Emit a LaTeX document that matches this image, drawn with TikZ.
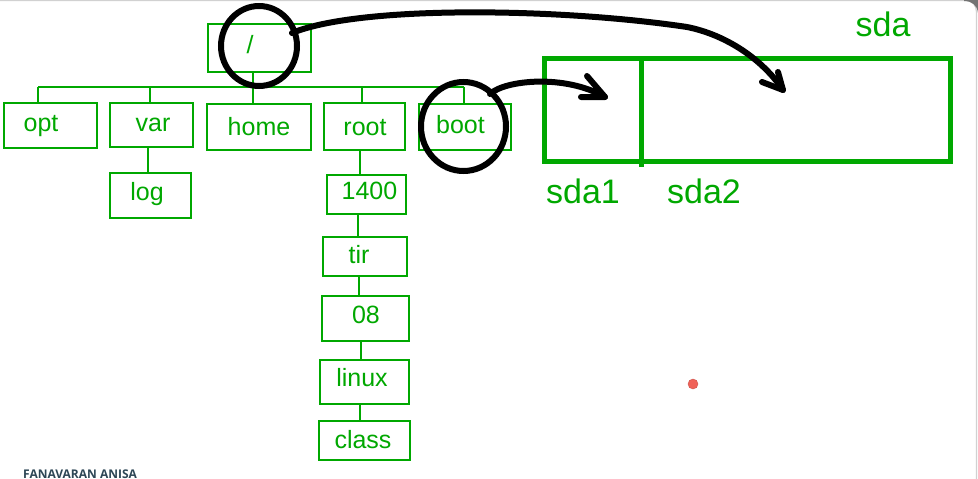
\documentclass[tikz,border=0pt]{standalone}
\usepackage{fontspec}
\setmainfont{Liberation Sans}
\newfontfamily\footfont{Open Sans}
\usetikzlibrary{shapes.geometric}
\definecolor{gr}{RGB}{0,168,0}
\definecolor{dotred}{RGB}{240,98,88}
\definecolor{footc}{RGB}{45,70,85}
\begin{document}
\begin{tikzpicture}[x=1pt,y=-1pt,
  box/.style={draw=gr, line width=1.6pt, inner sep=0pt},
  lbl/.style={text=gr, font=\fontsize{25}{25}\selectfont, inner sep=0pt, text height=18pt, text depth=0pt},
  biglbl/.style={text=gr, font=\fontsize{34}{34}\selectfont, inner sep=0pt, text height=24pt, text depth=0pt},
  tree/.style={draw=gr, line width=1.5pt},
  ring/.style={ellipse, draw=black, line width=6pt, inner sep=0pt},
  pen/.style={draw=black, line width=6pt, line cap=round, line join=round}]
\useasboundingbox (0,0) rectangle (978,479);
\fill[white] (0,0) rectangle (978,479);
% window border
\draw[black!18, line width=1.2pt] (0,0.6) -- (966,0.6) .. controls (972,0.6) and (976.5,5) .. (976.5,12) -- (976.5,479);
\fill[black!55] (964,0) -- (978,0) -- (978,13) .. controls (977,5) and (972,1) .. (964,1) -- cycle;

% tree boxes
\node[box, minimum width=103pt, minimum height=48pt] (slash) at (259.5,48) {};
\node[box, minimum width=93pt, minimum height=45pt] (opt) at (50.5,125.5) {};
\node[box, minimum width=83pt, minimum height=44pt] (var) at (151.5,125) {};
\node[box, minimum width=104pt, minimum height=46pt] (home) at (259,127) {};
\node[box, minimum width=81pt, minimum height=47pt] (root) at (364.5,126.5) {};
\node[box, minimum width=92pt, minimum height=46pt] (boot) at (465,127) {};
\node[box, minimum width=81pt, minimum height=45pt] (log) at (150.5,195.5) {};
\node[box, minimum width=79pt, minimum height=39pt] (n1400) at (366.5,194.5) {};
\node[box, minimum width=84pt, minimum height=39pt] (tir) at (365,256.5) {};
\node[box, minimum width=87pt, minimum height=45pt] (n08) at (365.5,318.5) {};
\node[box, minimum width=89pt, minimum height=44pt] (linux) at (364.5,382) {};
\node[box, minimum width=91pt, minimum height=39pt] (class) at (364.5,440.5) {};

% labels
\node[lbl] (slasht) at (250,44) {/};
\node[lbl] (optt) at (41,122) {opt};
\node[lbl] (vart) at (153,122) {var};
\node[lbl] (homet) at (259,126) {home};
\node[lbl] (roott) at (365,126) {root};
\node[lbl] (boott) at (460.5,124) {boot};
\node[lbl] (logt) at (147,191) {log};
\node[lbl] (n1400t) at (369.5,190.5) {1400};
\node[lbl] (tirt) at (359,254) {tir};
\node[lbl] (n08t) at (366,314) {08};
\node[lbl] (linuxt) at (362,377.5) {linux};
\node[lbl] (classt) at (363,439) {class};

% tree connectors
\coordinate (barL) at (38,87);
\coordinate (barR) at (464,87);
\coordinate (bvar) at (150,87);
\coordinate (bhome) at (253,87);
\coordinate (broot) at (362,87);
\draw[tree] (barL) -- (barR);
\draw[tree] (barL) -- (opt.north -| barL);
\draw[tree] (bvar) -- (var.north -| bvar);
\draw[tree] (slash.south -| bhome) -- (home.north -| bhome);
\draw[tree] (broot) -- (root.north -| broot);
\draw[tree] (barR) -- (boot.north -| barR);
\coordinate (xlog) at (148,0);
\coordinate (x1) at (360,0);
\coordinate (x2) at (358,0);
\coordinate (x3) at (359,0);
\coordinate (x4) at (361,0);
\draw[tree] (var.south -| xlog) -- (log.north -| xlog);
\draw[tree] (root.south -| x1) -- (n1400.north -| x1);
\draw[tree] (n1400.south -| x2) -- (tir.north -| x2);
\draw[tree] (tir.south -| x3) -- (n08.north -| x3);
\draw[tree] (n08.south -| x4) -- (linux.north -| x4);
\draw[tree] (linux.south -| x1) -- (class.north -| x1);

% disk sda
\node[draw=gr, line width=5pt, minimum width=406pt, minimum height=103pt, inner sep=0pt] (sda) at (747.5,110) {};
\coordinate (divtop) at (641,58.5);
\coordinate (divbot) at (641,167);
\draw[gr, line width=5pt] (divtop) -- (divbot);
\node[biglbl] (sdat) at (883,24) {sda};
\node[biglbl] (sda1t) at (583,191.5) {sda1};
\node[biglbl] (sda2t) at (704,191.5) {sda2};

% annotations
\node[ring, minimum width=76pt, minimum height=80pt] (ring1) at (259,46) {};
\node[ring, minimum width=85pt, minimum height=89pt] (ring2) at (463.5,126.5) {};
\coordinate (a1s) at (292,33);
\coordinate (a1m) at (687,27);
\coordinate (a1t) at (783,90);
\draw[pen] (a1s) .. controls (360,5) and (560,8) .. (a1m) .. controls (727,35) and (763,60) .. (a1t);
\draw[pen] (a1t) ++(-21,-8) -- (a1t) -- ++(-5,-18);
\coordinate (a2s) at (490,94);
\coordinate (a2t) at (605,97);
\draw[pen] (a2s) .. controls (505,80) and (565,74) .. (a2t);
\draw[pen] (a2t) ++(-18,-21) -- (a2t) -- ++(-24,0);

% red dot
\node[circle, fill=dotred, draw=dotred!85!black, line width=0.4pt, minimum size=10pt, inner sep=0pt] (reddot) at (693,384) {};

% footer
\node[anchor=base west, inner sep=0pt, text=footc, font=\footfont\bfseries\fontsize{12}{12}\selectfont] (foot) at (23,478) {FANAVARAN ANISA};
\end{tikzpicture}
\end{document}
